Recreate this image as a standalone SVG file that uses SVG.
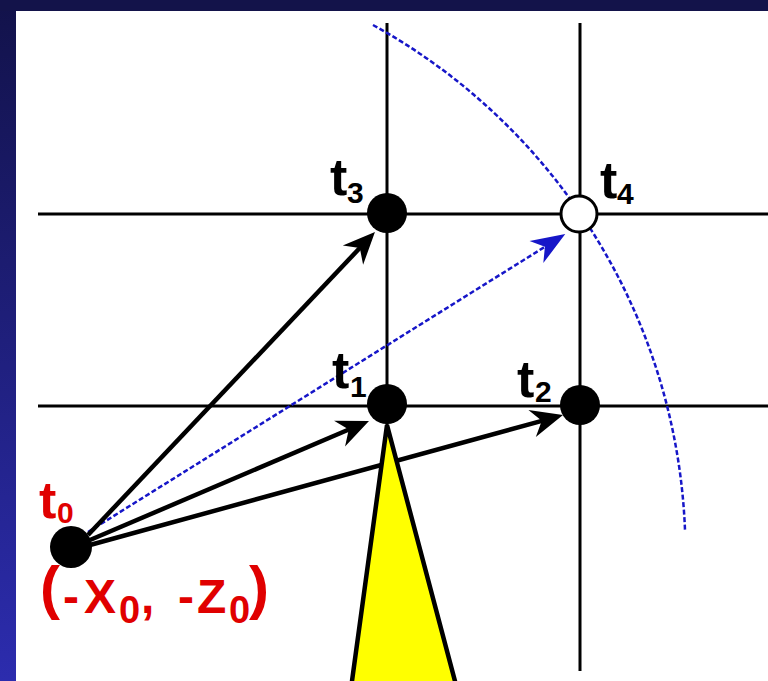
<svg xmlns="http://www.w3.org/2000/svg" width="768" height="681" viewBox="0 0 768 681">
  <defs>
    <linearGradient id="side" x1="0" y1="0" x2="0" y2="1">
      <stop offset="0" stop-color="#12124a"/>
      <stop offset="1" stop-color="#2c2cae"/>
    </linearGradient>
    <marker id="ah" markerUnits="userSpaceOnUse" orient="auto" refX="0" refY="0" markerWidth="40" markerHeight="40" overflow="visible">
      <path d="M20,0 L-12,-14 L-2,0 L-12,14 Z" fill="#000"/>
    </marker>
    <marker id="ahb" markerUnits="userSpaceOnUse" orient="auto" refX="0" refY="0" markerWidth="40" markerHeight="40" overflow="visible">
      <path d="M18,0 L-16,-13 L-6,0 L-16,13 Z" fill="#1616c8"/>
    </marker>
  </defs>
  <style>
    .grid { stroke: #000; stroke-width: 3; fill: none; }
    .arrow { stroke: #000; stroke-width: 4.5; fill: none; marker-end: url(#ah); }
    .blue { stroke: #1616c8; stroke-width: 2.5; fill: none; stroke-dasharray: 5 2.5; }
    .node { fill: #000; }
    .lbl { font-family: "Liberation Sans", Arial, sans-serif; font-weight: bold; }
    .big { font-size: 52px; }
    .sub { font-size: 30px; }
    .red { fill: #e00000; }
  </style>

  <rect x="0" y="0" width="768" height="681" fill="#fff"/>
  <rect x="0" y="0" width="16" height="681" fill="url(#side)"/>
  <rect x="0" y="0" width="768" height="11" fill="#13134a"/>

  <g id="grid">
    <line class="grid" x1="38" y1="214" x2="768" y2="214"/>
    <line class="grid" x1="38" y1="406" x2="768" y2="406"/>
    <line class="grid" x1="387" y1="23" x2="387" y2="681"/>
    <line class="grid" x1="580" y1="23" x2="580" y2="671"/>
  </g>

  <g id="connectors">
    <path id="arc" class="blue" d="M373,25 A604,604 0 0 1 685,530"/>
    <line class="blue" x1="88" y1="532" x2="550" y2="243.6" marker-end="url(#ahb)"/>
    <line class="arrow" x1="88" y1="535" x2="361.2" y2="246.5"/>
    <line class="arrow" x1="90" y1="540" x2="350.6" y2="428.8"/>
    <line class="arrow" x1="90" y1="545" x2="543.7" y2="420.3"/>
  </g>

  <g id="camera">
    <polygon points="387,425 349.4,700 460,700" fill="#ffff00" stroke="#000" stroke-width="4.5"/>
  </g>

  <g id="t0">
    <circle class="node" cx="71" cy="547" r="21"/>
    <text class="lbl red"><tspan class="big" x="39" y="518" font-size="54">t</tspan><tspan class="sub" x="57" y="523">0</tspan></text>
    <text class="lbl red"><tspan x="40" y="608" font-size="60">(</tspan><tspan x="63" y="613" font-size="48">-</tspan><tspan x="84" y="613" font-size="48">X</tspan><tspan x="119" y="623" font-size="38">0</tspan><tspan x="141" y="613" font-size="48">,</tspan><tspan x="178" y="613" font-size="48">-</tspan><tspan x="197" y="613" font-size="48">Z</tspan><tspan x="229" y="623" font-size="38">0</tspan><tspan x="249" y="608" font-size="60">)</tspan></text>
  </g>
  <g id="t1">
    <circle class="node" cx="387" cy="404" r="20"/>
    <text class="lbl"><tspan class="big" x="332" y="388">t</tspan><tspan class="sub" x="350" y="397">1</tspan></text>
  </g>
  <g id="t2">
    <circle class="node" cx="580" cy="405" r="20"/>
    <text class="lbl"><tspan class="big" x="517" y="397">t</tspan><tspan class="sub" x="535" y="402">2</tspan></text>
  </g>
  <g id="t3">
    <circle class="node" cx="387" cy="213" r="20"/>
    <text class="lbl"><tspan class="big" x="330" y="195">t</tspan><tspan class="sub" x="347" y="203">3</tspan></text>
  </g>
  <g id="t4">
    <circle cx="579" cy="214" r="18" fill="#fff" stroke="#000" stroke-width="3"/>
    <text class="lbl"><tspan class="big" x="600" y="198">t</tspan><tspan class="sub" x="617" y="204">4</tspan></text>
  </g>
</svg>
